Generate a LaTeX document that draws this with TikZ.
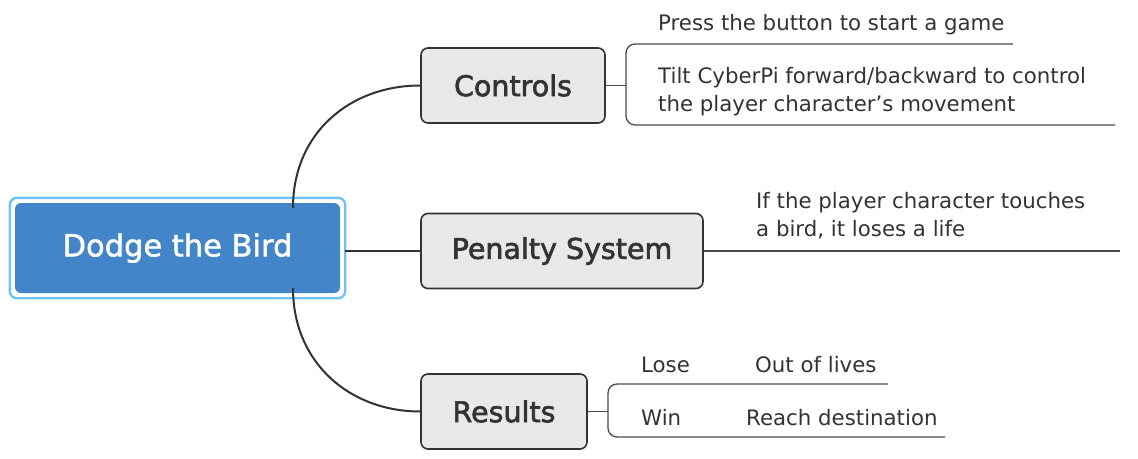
\documentclass[tikz,border=0pt]{standalone}
\usepackage{fontspec}
\setmainfont{DejaVu Sans}
\newfontfamily\semib[FakeBold=2.2]{DejaVu Sans}
\newfontfamily\rootf[FakeBold=1.5]{DejaVu Sans}
\definecolor{rootblue}{HTML}{4285C9}
\definecolor{rootring}{HTML}{6EC3F5}
\definecolor{boxgray}{HTML}{E8E8E8}
\definecolor{ink}{HTML}{333333}
\definecolor{linegray}{HTML}{4A4A4A}
\tikzset{
  rootbox/.style={draw=none, fill=rootblue, rounded corners=6pt, text=white,
    minimum width=325pt, minimum height=90pt, inner sep=0pt,
    font=\rootf\fontsize{30.5}{34}\selectfont},
  topicbox/.style={draw=ink, fill=boxgray, line width=1.6pt, rounded corners=7pt,
    text=ink, minimum height=75pt, inner sep=0pt, font=\semib\fontsize{28.5}{32}\selectfont},
  leaf/.style={text=ink, inner sep=0pt, font=\fontsize{21.3}{28}\selectfont},
  conn/.style={draw=ink, line width=2pt},
  thin/.style={draw=linegray, line width=1.3pt},
}
\begin{document}
\begin{tikzpicture}[x=1pt,y=-1pt]
\useasboundingbox (0,0) rectangle (1138,458);
% root
\node[rootbox] (root) at (177.5,248) {Dodge the Bird};
\draw[rootring, line width=2.4pt, rounded corners=7pt]
  ([shift={(-5,-5)}]root.north west) rectangle ([shift={(5,5)}]root.south east);
% topics
\node[topicbox, minimum width=184pt] (controls) at (513,85.5) {Controls};
\node[topicbox, minimum width=282pt] (penalty) at (562,251) {Penalty System};
\node[topicbox, minimum width=166pt] (results) at (504,411.5) {Results};
% connectors from root
\draw[conn] ([xshift=115.5pt,yshift=-5pt]root.north) .. controls +(0,-75) and +(-70,0) .. (controls.west);
\draw[conn] ([xshift=5pt]root.east |- penalty.west) -- (penalty.west);
\draw[conn] ([xshift=115.5pt,yshift=5pt]root.south) .. controls +(0,75) and +(-70,0) .. (results.west);
% Controls leaves
\node[leaf, anchor=base west] (c1) at (658,30) {Press the button to start a game};
\node[leaf, anchor=base west] (c2) at (658,83) {Tilt CyberPi forward/backward to control};
\node[leaf, anchor=base west] (c3) at (658,111) {the player character's movement};
\coordinate (cb) at (626,85.5);
\coordinate (c1e) at (1013,44);
\coordinate (c3e) at (1115,125);
\draw[thin] (controls.east) -- (cb);
\draw[thin, rounded corners=9pt] (c1e) -- (c1e -| cb) -- (c3e -| cb) -- (c3e);
% Penalty leaf
\node[leaf, anchor=base west] (p1) at (756,208) {If the player character touches};
\node[leaf, anchor=base west] (p2) at (756,236) {a bird, it loses a life};
\coordinate (pe) at (1120,251);
\draw[thin] (penalty.east) -- (pe);
% Results leaves
\node[leaf, anchor=base west] (lose) at (641,372) {Lose};
\node[leaf, anchor=base west] (outl) at (755,372) {Out of lives};
\node[leaf, anchor=base west] (win) at (641,425) {Win};
\node[leaf, anchor=base west] (reach) at (746,425) {Reach destination};
\coordinate (rb) at (608,411.5);
\coordinate (r1e) at (888,384);
\coordinate (r2e) at (945,437);
\draw[thin] (results.east) -- (rb);
\draw[thin, rounded corners=9pt] (r1e) -- (r1e -| rb) -- (r2e -| rb) -- (r2e);
\end{tikzpicture}
\end{document}
